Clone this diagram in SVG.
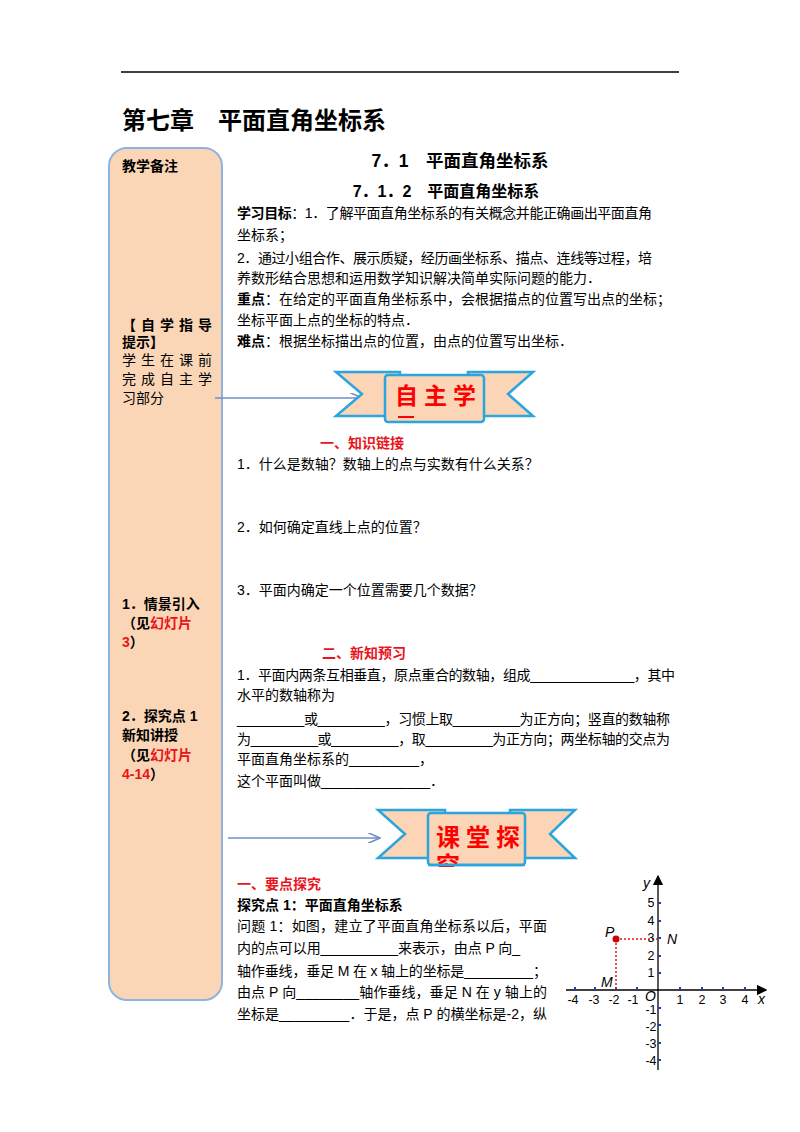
<svg xmlns="http://www.w3.org/2000/svg" width="800" height="1132" viewBox="0 0 800 1132">
<style>
text{font-family:"Liberation Sans","Noto Sans CJK SC",sans-serif;fill:#000}
.b{font-size:14px}
.bd{font-weight:bold}
.r{fill:#e8141b}
.l{font-size:14px}
.ax{font-family:"Liberation Serif","Noto Serif CJK SC",serif;font-size:12.5px;fill:#e8141b}
.ban{fill:#fbd5b5;stroke:#2aa5de;stroke-width:2.5}
.bt{font-size:24px;font-weight:bold;fill:#f00;letter-spacing:6px}
</style>
<defs>
<marker id="ar" markerWidth="10" markerHeight="8" refX="9" refY="4" orient="auto"><path d="M0,0 L9,4 L0,8" fill="none" stroke="#6d8fc4" stroke-width="1.2"/></marker>
<marker id="ak" markerWidth="8" markerHeight="8" refX="7" refY="4" orient="auto"><path d="M0,0 L8,4 L0,8 Z" fill="#000"/></marker>
</defs>
<rect width="800" height="1132" fill="#fff"/>
<line x1="121" y1="72" x2="679" y2="72" stroke="#000" stroke-width="1.5"/>
<text x="122" y="129" style="font-size:24px;font-weight:bold">第七章　平面直角坐标系</text>

<g id="sidebar">
<rect x="109" y="148" width="113" height="852" rx="18" fill="#fbd6b6" stroke="#8fb3e0" stroke-width="2"/>
<text x="122" y="171" class="l bd">教学备注</text>
<text x="122" y="330" class="l bd" textLength="90">【自学指导</text>
<text x="122" y="347" class="l bd">提示】</text>
<text x="122" y="365" class="l" textLength="90">学生在课前</text>
<text x="122" y="384" class="l" textLength="90">完成自主学</text>
<text x="122" y="403" class="l">习部分</text>
<text x="122" y="609" class="l bd">1．情景引入</text>
<text x="122" y="628" class="l bd">（见<tspan class="r">幻灯片</tspan></text>
<text x="122" y="647" class="l bd"><tspan class="r">3</tspan>）</text>
<text x="122" y="721" class="l bd">2．探究点 1</text>
<text x="122" y="740" class="l bd">新知讲授</text>
<text x="122" y="760" class="l bd">（见<tspan class="r">幻灯片</tspan></text>
<text x="122" y="779" class="l bd"><tspan class="r">4-14</tspan>）</text>
</g>

<g id="connectors">
<line x1="215" y1="398" x2="362" y2="398" stroke="#6d8fc4" stroke-width="1.3" marker-end="url(#ar)"/>
<line x1="228" y1="838" x2="380" y2="838" stroke="#6d8fc4" stroke-width="1.3" marker-end="url(#ar)"/>
</g>

<g id="head">
<text x="460" y="167" text-anchor="middle" style="font-size:17.5px;font-weight:bold">7．1　平面直角坐标系</text>
<text x="446" y="197" text-anchor="middle" style="font-size:16px;font-weight:bold">7．1．2　平面直角坐标系</text>
<text x="237" y="218" class="b" textLength="415"><tspan class="bd">学习目标</tspan>：1．了解平面直角坐标系的有关概念并能正确画出平面直角</text>
<text x="237" y="240" class="b">坐标系；</text>
<text x="237" y="263" class="b" textLength="415">2．通过小组合作、展示质疑，经历画坐标系、描点、连线等过程，培</text>
<text x="237" y="283" class="b">养数形结合思想和运用数学知识解决简单实际问题的能力．</text>
<text x="237" y="304" class="b"><tspan class="bd">重点</tspan>：在给定的平面直角坐标系中，会根据描点的位置写出点的坐标；</text>
<text x="237" y="325" class="b">坐标平面上点的坐标的特点．</text>
<text x="237" y="346" class="b"><tspan class="bd">难点</tspan>：根据坐标描出点的位置，由点的位置写出坐标．</text>
</g>

<g id="banner1">
<path class="ban" d="M336,372 L400,372 L400,416 L336,416 L362,394 Z"/>
<path class="ban" d="M533,372 L468,372 L468,416 L533,416 L508,394 Z"/>
<rect class="ban" x="385" y="375" width="99" height="47" rx="3"/>
<text x="395" y="404" class="bt" style="font-size:23px">自主学</text>
<line x1="398" y1="417" x2="414" y2="417" stroke="#f00" stroke-width="2"/>
</g>

<g id="sec1">
<text x="320" y="448" class="b bd r">一、知识链接</text>
<text x="237" y="469" class="b">1．什么是数轴？数轴上的点与实数有什么关系？</text>
<text x="237" y="532" class="b">2．如何确定直线上点的位置？</text>
<text x="237" y="595" class="b">3．平面内确定一个位置需要几个数据？</text>
<text x="322" y="658" class="b bd r">二、新知预习</text>
<text x="237" y="680" class="b" textLength="438">1．平面内两条互相垂直，原点重合的数轴，组成______________，其中</text>
<text x="237" y="700" class="b">水平的数轴称为</text>
<text x="237" y="724" class="b" textLength="433">_________或_________，习惯上取_________为正方向；竖直的数轴称</text>
<text x="237" y="744" class="b" textLength="433">为_________或_________，取_________为正方向；两坐标轴的交点为</text>
<text x="237" y="764" class="b">平面直角坐标系的_________，</text>
<text x="237" y="786" class="b">这个平面叫做______________．</text>
</g>

<g id="banner2">
<path class="ban" d="M378,810 L445,810 L445,858 L378,858 L405,834 Z"/>
<path class="ban" d="M575,810 L510,810 L510,858 L575,858 L550,834 Z"/>
<rect class="ban" x="428" y="813" width="97" height="52" rx="3"/>
<text x="436" y="846" class="bt">课堂探</text>
<text x="436" y="874" class="bt">究</text>
<rect x="426" y="867" width="110" height="12" fill="#fff"/>
<line x1="428" y1="865" x2="525" y2="865" stroke="#2aa5de" stroke-width="2.5"/>
</g>

<g id="sec2">
<text x="237" y="889" class="b bd r">一、要点探究</text>
<text x="237" y="910" class="b bd">探究点 1：平面直角坐标系</text>
<text x="237" y="931" class="b" textLength="310">问题 1：如图，建立了平面直角坐标系以后，平面</text>
<text x="237" y="953" class="b" textLength="283">内的点可以用__________来表示，由点 P 向_</text>
<text x="237" y="976" class="b" textLength="310">轴作垂线，垂足 M 在 x 轴上的坐标是_________；</text>
<text x="237" y="997" class="b" textLength="310">由点 P 向________轴作垂线，垂足 N 在 y 轴上的</text>
<text x="237" y="1019" class="b" textLength="310">坐标是_________．于是，点 P 的横坐标是-2，纵</text>
</g>

<g id="graph">
<line x1="566" y1="990" x2="766" y2="990" stroke="#000" stroke-width="1.3" marker-end="url(#ak)"/>
<line x1="658" y1="1070" x2="658" y2="876" stroke="#000" stroke-width="1.3" marker-end="url(#ak)"/>
<g stroke="#1a3ccc" stroke-width="2">
<line x1="575" y1="987" x2="575" y2="990"/><line x1="595" y1="987" x2="595" y2="990"/><line x1="616" y1="987" x2="616" y2="990"/><line x1="637" y1="987" x2="637" y2="990"/>
<line x1="680" y1="987" x2="680" y2="990"/><line x1="702" y1="987" x2="702" y2="990"/><line x1="723" y1="987" x2="723" y2="990"/><line x1="745" y1="987" x2="745" y2="990"/>
<line x1="658" y1="973" x2="661" y2="973"/><line x1="658" y1="956" x2="661" y2="956"/><line x1="658" y1="938" x2="661" y2="938"/><line x1="658" y1="921" x2="661" y2="921"/><line x1="658" y1="903" x2="661" y2="903"/>
<line x1="658" y1="1008" x2="661" y2="1008"/><line x1="658" y1="1025" x2="661" y2="1025"/><line x1="658" y1="1043" x2="661" y2="1043"/><line x1="658" y1="1060" x2="661" y2="1060"/>
</g>
<g stroke="#e8141b" stroke-width="1.5" stroke-dasharray="2,2">
<line x1="616" y1="939" x2="658" y2="939"/><line x1="616" y1="939" x2="616" y2="990"/>
</g>
<circle cx="616" cy="939" r="3.5" fill="#c00"/>
<g class="ax" text-anchor="middle">
<text x="573" y="1004">-4</text><text x="594" y="1004">-3</text><text x="614" y="1004">-2</text><text x="633" y="1004">-1</text>
<text x="680" y="1004">1</text><text x="702" y="1004">2</text><text x="723" y="1004">3</text><text x="745" y="1004">4</text>
<text x="651" y="977">1</text><text x="651" y="960">2</text><text x="651" y="942">3</text><text x="651" y="925">4</text><text x="651" y="907">5</text>
<text x="651" y="1014">-1</text><text x="651" y="1031">-2</text><text x="651" y="1048">-3</text><text x="651" y="1065">-4</text>
</g>
<g class="ax" style="font-style:italic;font-size:14px">
<text x="643" y="888">y</text><text x="758" y="1004">x</text><text x="645" y="1001">O</text>
<text x="605" y="937">P</text><text x="667" y="944">N</text><text x="601" y="987">M</text>
</g>
</g>
</svg>
